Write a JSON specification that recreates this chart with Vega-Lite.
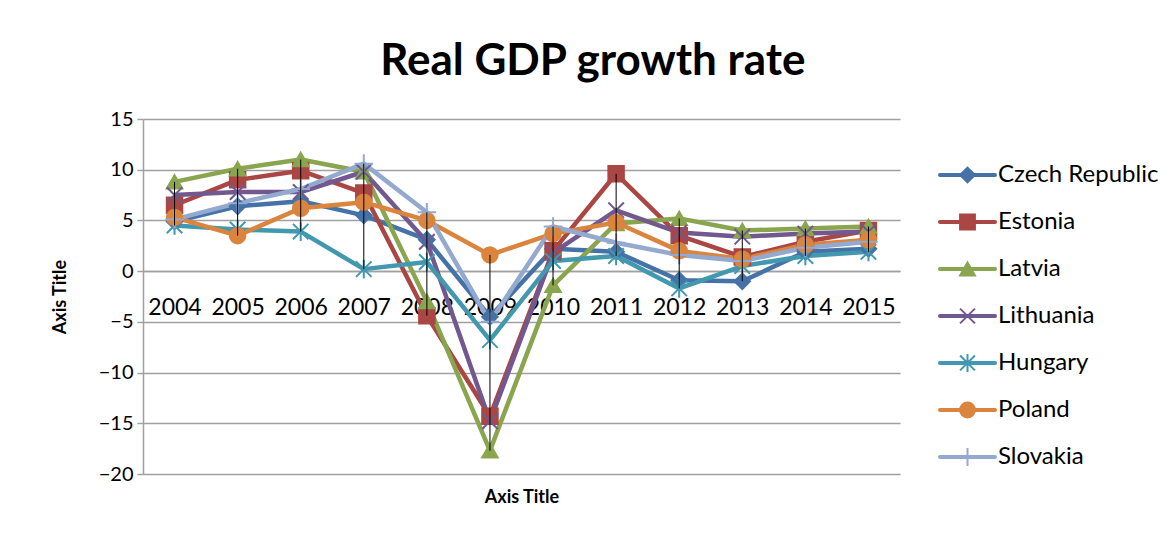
{
  "$schema": "https://vega.github.io/schema/vega-lite/v6.json",
  "background": "white",
  "padding": {"left": 51, "top": 40, "right": 5, "bottom": 5},
  "title": {"text": "Real GDP growth rate", "font": "Lato", "fontSize": 44, "fontWeight": "bold", "color": "#000000", "anchor": "middle", "offset": 25, "dx": -12},
  "spacing": 38,
  "data": {"values": [
    {"country": "Czech Republic", "year": "2004", "value": 4.9},
    {"country": "Czech Republic", "year": "2005", "value": 6.4},
    {"country": "Czech Republic", "year": "2006", "value": 6.9},
    {"country": "Czech Republic", "year": "2007", "value": 5.5},
    {"country": "Czech Republic", "year": "2008", "value": 3.1},
    {"country": "Czech Republic", "year": "2009", "value": -4.5},
    {"country": "Czech Republic", "year": "2010", "value": 2.2},
    {"country": "Czech Republic", "year": "2011", "value": 1.9},
    {"country": "Czech Republic", "year": "2012", "value": -0.9},
    {"country": "Czech Republic", "year": "2013", "value": -1.0},
    {"country": "Czech Republic", "year": "2014", "value": 1.9},
    {"country": "Czech Republic", "year": "2015", "value": 2.2},
    {"country": "Estonia", "year": "2004", "value": 6.5},
    {"country": "Estonia", "year": "2005", "value": 9.0},
    {"country": "Estonia", "year": "2006", "value": 9.9},
    {"country": "Estonia", "year": "2007", "value": 7.7},
    {"country": "Estonia", "year": "2008", "value": -4.4},
    {"country": "Estonia", "year": "2009", "value": -14.3},
    {"country": "Estonia", "year": "2010", "value": 2.0},
    {"country": "Estonia", "year": "2011", "value": 9.6},
    {"country": "Estonia", "year": "2012", "value": 3.5},
    {"country": "Estonia", "year": "2013", "value": 1.4},
    {"country": "Estonia", "year": "2014", "value": 2.9},
    {"country": "Estonia", "year": "2015", "value": 4.0},
    {"country": "Latvia", "year": "2004", "value": 8.8},
    {"country": "Latvia", "year": "2005", "value": 10.1},
    {"country": "Latvia", "year": "2006", "value": 11.0},
    {"country": "Latvia", "year": "2007", "value": 9.8},
    {"country": "Latvia", "year": "2008", "value": -3.0},
    {"country": "Latvia", "year": "2009", "value": -17.7},
    {"country": "Latvia", "year": "2010", "value": -1.4},
    {"country": "Latvia", "year": "2011", "value": 4.7},
    {"country": "Latvia", "year": "2012", "value": 5.2},
    {"country": "Latvia", "year": "2013", "value": 4.0},
    {"country": "Latvia", "year": "2014", "value": 4.2},
    {"country": "Latvia", "year": "2015", "value": 4.4},
    {"country": "Lithuania", "year": "2004", "value": 7.5},
    {"country": "Lithuania", "year": "2005", "value": 7.8},
    {"country": "Lithuania", "year": "2006", "value": 7.8},
    {"country": "Lithuania", "year": "2007", "value": 9.8},
    {"country": "Lithuania", "year": "2008", "value": 2.9},
    {"country": "Lithuania", "year": "2009", "value": -14.8},
    {"country": "Lithuania", "year": "2010", "value": 1.8},
    {"country": "Lithuania", "year": "2011", "value": 6.0},
    {"country": "Lithuania", "year": "2012", "value": 3.8},
    {"country": "Lithuania", "year": "2013", "value": 3.4},
    {"country": "Lithuania", "year": "2014", "value": 3.7},
    {"country": "Lithuania", "year": "2015", "value": 3.9},
    {"country": "Hungary", "year": "2004", "value": 4.5},
    {"country": "Hungary", "year": "2005", "value": 4.1},
    {"country": "Hungary", "year": "2006", "value": 3.9},
    {"country": "Hungary", "year": "2007", "value": 0.2},
    {"country": "Hungary", "year": "2008", "value": 0.9},
    {"country": "Hungary", "year": "2009", "value": -6.8},
    {"country": "Hungary", "year": "2010", "value": 1.0},
    {"country": "Hungary", "year": "2011", "value": 1.5},
    {"country": "Hungary", "year": "2012", "value": -1.7},
    {"country": "Hungary", "year": "2013", "value": 0.5},
    {"country": "Hungary", "year": "2014", "value": 1.5},
    {"country": "Hungary", "year": "2015", "value": 1.9},
    {"country": "Poland", "year": "2004", "value": 5.3},
    {"country": "Poland", "year": "2005", "value": 3.5},
    {"country": "Poland", "year": "2006", "value": 6.2},
    {"country": "Poland", "year": "2007", "value": 6.8},
    {"country": "Poland", "year": "2008", "value": 5.0},
    {"country": "Poland", "year": "2009", "value": 1.6},
    {"country": "Poland", "year": "2010", "value": 3.7},
    {"country": "Poland", "year": "2011", "value": 4.8},
    {"country": "Poland", "year": "2012", "value": 2.0},
    {"country": "Poland", "year": "2013", "value": 1.2},
    {"country": "Poland", "year": "2014", "value": 2.6},
    {"country": "Poland", "year": "2015", "value": 3.1},
    {"country": "Slovakia", "year": "2004", "value": 5.1},
    {"country": "Slovakia", "year": "2005", "value": 6.7},
    {"country": "Slovakia", "year": "2006", "value": 8.1},
    {"country": "Slovakia", "year": "2007", "value": 10.6},
    {"country": "Slovakia", "year": "2008", "value": 5.8},
    {"country": "Slovakia", "year": "2009", "value": -5.0},
    {"country": "Slovakia", "year": "2010", "value": 4.4},
    {"country": "Slovakia", "year": "2011", "value": 2.8},
    {"country": "Slovakia", "year": "2012", "value": 1.6},
    {"country": "Slovakia", "year": "2013", "value": 1.0},
    {"country": "Slovakia", "year": "2014", "value": 2.3},
    {"country": "Slovakia", "year": "2015", "value": 2.9}
  ]},
  "hconcat": [
    {
      "width": 757,
      "height": 355,
      "encoding": {
        "x": {"field": "year", "type": "ordinal", "scale": {"type": "point", "padding": 0.5},
          "axis": {"orient": "bottom", "offset": -203, "labelAngle": 0, "labelFont": "Lato", "labelFontSize": 23, "labelColor": "#000000", "labelPadding": 25, "ticks": false, "grid": false, "domainColor": "#a0a0a0", "domainWidth": 1.5,
            "title": "Axis Title", "titleFont": "Lato", "titleFontSize": 18, "titleFontWeight": "bold", "titleColor": "#000000", "titleY": 226, "titleBaseline": "middle"}},
        "y": {"field": "value", "type": "quantitative", "scale": {"domain": [-20, 15], "nice": false, "zero": false},
          "axis": {"values": [-20, -15, -10, -5, 0, 5, 10, 15], "grid": true, "gridColor": "#a0a0a0", "gridWidth": 1.5, "domainColor": "#a0a0a0", "domainWidth": 1.5, "tickColor": "#a0a0a0", "tickSize": 6, "tickWidth": 1.5,
            "labelFont": "Lato", "labelFontSize": 20, "labelColor": "#000000", "labelPadding": 4,
            "title": "Axis Title", "titleFont": "Lato", "titleFontSize": 18, "titleFontWeight": "bold", "titleColor": "#000000", "titlePadding": 29}}
      },
      "layer": [
        {
          "mark": {"type": "line", "strokeWidth": 4.5, "strokeJoin": "round"},
          "encoding": {
            "color": {"field": "country", "type": "nominal", "legend": null,
              "scale": {"domain": ["Czech Republic", "Estonia", "Latvia", "Lithuania", "Hungary", "Poland", "Slovakia"], "range": ["#4572A7", "#AA4643", "#89A54E", "#71588F", "#4198AF", "#DB843D", "#93A9CF"]}}
          }
        },
        {
          "mark": {"type": "point", "filled": true, "size": 240, "strokeWidth": 2, "opacity": 1},
          "encoding": {
            "color": {"field": "country", "type": "nominal", "legend": null,
              "scale": {"domain": ["Czech Republic", "Estonia", "Latvia", "Lithuania", "Hungary", "Poland", "Slovakia"], "range": ["#4572A7", "#AA4643", "#89A54E", "#71588F", "#4198AF", "#DB843D", "#93A9CF"]}},
            "stroke": {"field": "country", "type": "nominal", "legend": null,
              "scale": {"domain": ["Czech Republic", "Estonia", "Latvia", "Lithuania", "Hungary", "Poland", "Slovakia"], "range": ["#4572A7", "#AA4643", "#89A54E", "#71588F", "#4198AF", "#DB843D", "#93A9CF"]}},
            "shape": {"field": "country", "type": "nominal", "legend": null,
              "scale": {"domain": ["Czech Republic", "Estonia", "Latvia", "Lithuania", "Hungary", "Poland", "Slovakia"], "range": ["diamond", "square", "triangle-up", "M-1,-1L1,1M-1,1L1,-1", "M-1,-1L1,1M-1,1L1,-1M0,-1.2L0,1.2", "circle", "M-1.2,0L1.2,0M0,-1.2L0,1.2"]}}
          }
        },
        {
          "mark": {"type": "rule", "color": "#000000", "strokeWidth": 1},
          "encoding": {
            "y": {"aggregate": "min", "field": "value", "type": "quantitative"},
            "y2": {"aggregate": "max", "field": "value"}
          }
        }
      ]
    },
    {
      "width": 55,
      "height": 355,
      "transform": [{"filter": "datum.year == '2004'"}],
      "encoding": {
        "y": {"field": "country", "type": "nominal", "axis": null,
          "scale": {"type": "point", "domain": ["Czech Republic", "Estonia", "Latvia", "Lithuania", "Hungary", "Poland", "Slovakia"], "padding": 0.777, "align": 0.767}}
      },
      "layer": [
        {
          "mark": {"type": "rule", "strokeWidth": 4, "strokeCap": "round"},
          "encoding": {
            "x": {"datum": 0, "type": "quantitative", "scale": {"domain": [0, 1]}, "axis": null},
            "x2": {"datum": 1},
            "color": {"field": "country", "type": "nominal", "legend": null,
              "scale": {"domain": ["Czech Republic", "Estonia", "Latvia", "Lithuania", "Hungary", "Poland", "Slovakia"], "range": ["#4572A7", "#AA4643", "#89A54E", "#71588F", "#4198AF", "#DB843D", "#93A9CF"]}}
          }
        },
        {
          "mark": {"type": "point", "filled": true, "size": 220, "strokeWidth": 2, "opacity": 1},
          "encoding": {
            "x": {"datum": 0.5, "type": "quantitative"},
            "color": {"field": "country", "type": "nominal", "legend": null,
              "scale": {"domain": ["Czech Republic", "Estonia", "Latvia", "Lithuania", "Hungary", "Poland", "Slovakia"], "range": ["#4572A7", "#AA4643", "#89A54E", "#71588F", "#4198AF", "#DB843D", "#93A9CF"]}},
            "stroke": {"field": "country", "type": "nominal", "legend": null,
              "scale": {"domain": ["Czech Republic", "Estonia", "Latvia", "Lithuania", "Hungary", "Poland", "Slovakia"], "range": ["#4572A7", "#AA4643", "#89A54E", "#71588F", "#4198AF", "#DB843D", "#93A9CF"]}},
            "shape": {"field": "country", "type": "nominal", "legend": null,
              "scale": {"domain": ["Czech Republic", "Estonia", "Latvia", "Lithuania", "Hungary", "Poland", "Slovakia"], "range": ["diamond", "square", "triangle-up", "M-1,-1L1,1M-1,1L1,-1", "M-1,-1L1,1M-1,1L1,-1M0,-1.2L0,1.2", "circle", "M-1.2,0L1.2,0M0,-1.2L0,1.2"]}}
          }
        },
        {
          "mark": {"type": "text", "align": "left", "baseline": "middle", "dx": 3, "font": "Lato", "fontSize": 24, "color": "#000000"},
          "encoding": {
            "x": {"datum": 1, "type": "quantitative"},
            "text": {"field": "country", "type": "nominal"}
          }
        }
      ]
    }
  ],
  "config": {"view": {"stroke": null}}
}
